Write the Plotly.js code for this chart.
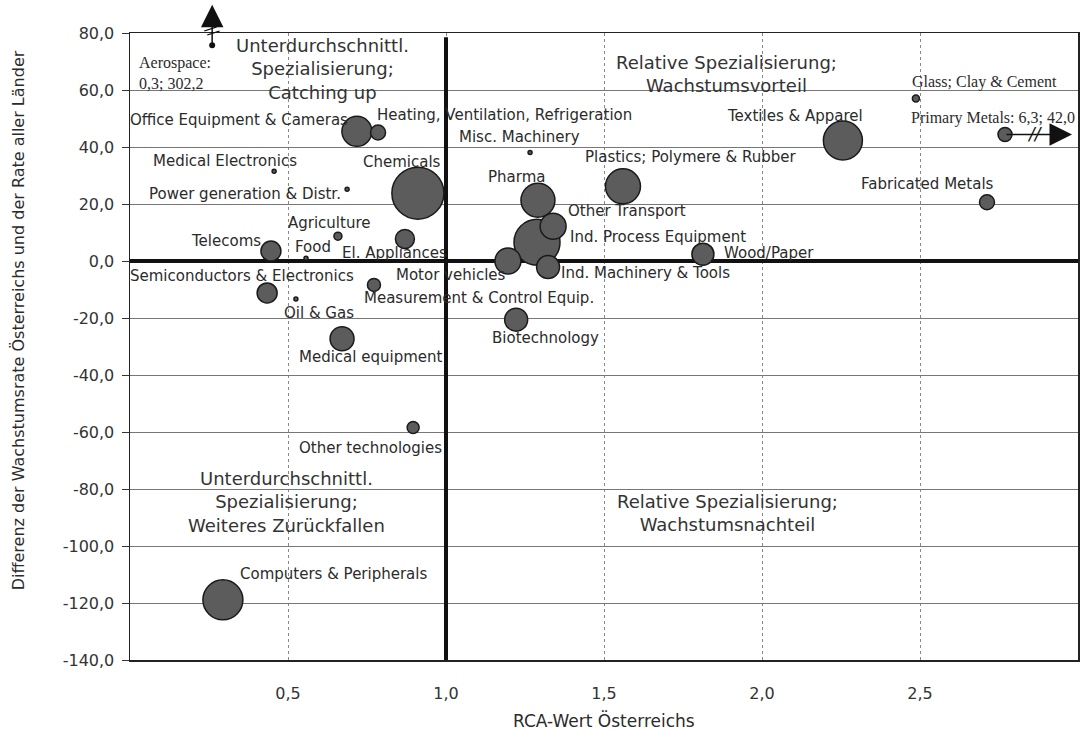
<!DOCTYPE html>
<html><head><meta charset="utf-8">
<script src="https://cdn.plot.ly/plotly-3.0.1.min.js"></script>
<style>html,body{margin:0;padding:0;background:#fff}#chart{width:1083px;height:732px}</style>
</head><body><div id="chart"></div>
<script>
// ---- data ----
const sectors = [
  "Office Equipment & Cameras","Heating, Ventilation, Refrigeration","Medical Electronics",
  "Power generation & Distr.","Chemicals","Agriculture","Food","El. Appliances","Telecoms",
  "Semiconductors & Electronics","Oil & Gas","Measurement & Control Equip.","Misc. Machinery",
  "Plastics; Polymere & Rubber","Pharma","Other Transport","Ind. Process Equipment",
  "Motor vehicles","Ind. Machinery & Tools","Wood/Paper","Biotechnology","Medical equipment",
  "Other technologies","Computers & Peripherals","Textiles & Apparel","Glass; Clay & Cement",
  "Primary Metals","Fabricated Metals"];
const rca = [0.718,0.785,0.456,0.687,0.911,0.658,0.557,0.870,0.446,0.434,0.525,0.772,1.266,
  1.560,1.291,1.339,1.288,1.196,1.323,1.813,1.222,0.671,0.896,0.294,2.256,2.487,2.769,2.712];
const growthDiff = [45.5,45.1,31.5,25.2,23.8,8.7,1.0,7.7,3.5,-11.2,-13.3,-8.4,38.1,
  26.2,21.3,12.2,6.6,0.0,-2.1,2.4,-20.6,-27.3,-58.4,-118.9,42.3,57.0,44.4,20.6];
const bubbleWeight = [30,15,4,4,52,8,4,19,20,20,4,13,4,35,34,26,46,26,23,22,23,24,12,40,39,7,14,15];

// off-scale sectors (true values printed in the chart)
const offNames = ["Aerospace","Primary Metals"];
const offRca = [0.3,6.3];
const offDiff = [302.2,42.0];
const aerospaceShownRca = 0.26;
const aerospaceShownDiff = 74.8;

const xTicks = [0.5,1.0,1.5,2.0,2.5];
const yTicks = [-140,-120,-100,-80,-60,-40,-20,0,20,40,60,80];
const yRange = [-140, 80];
const refRca = 1.0;

const quadText = ["Unterdurchschnittl.<br>Spezialisierung;<br>Catching up",
  "Relative Spezialisierung;<br>Wachstumsvorteil",
  "Unterdurchschnittl.<br>Spezialisierung;<br>Weiteres Zurückfallen",
  "Relative Spezialisierung;<br>Wachstumsnachteil"];
const quadX = [0.608,1.889,0.494,1.89];
const quadY = [67.5,65.7,-84.6,-88.5];

// ---- label placement (style: anchor, x-offset px, y-offset px) ----
const labelStyle = [
  ["right",-7,11],["left",-3,17],["center",-49,10],["right",-4,-5],["center",-16,31],
  ["center",-8,13],["center",7,11],["center",-10,-14],["right",-8,10],["center",-25,17],
  ["left",-14,-14],["left",-12,-13],["center",-11,15],["left",-40,29],["center",-21,23],
  ["left",13,15],["left",31,5],["right",0,-14],["left",11,-6],["left",19,1],["center",29,-18],
  ["center",29,-18],["center",-43,-21],["left",15,26],["center",-48,24],["left",-6,17],
  ["left",-96,16],["center",-59,18]];
const serifLabels = ["Glass; Clay & Cement","Primary Metals"];

const fmt = v => v.toFixed(1).replace('.', ',');
const SANS = "DejaVu Sans, Arial, sans-serif";
const SERIF = "Liberation Serif, Times New Roman, serif";
const TXT = "#2b2b2b";

// draw larger bubbles first
const order = sectors.map((_, i) => i).sort((a, b) => bubbleWeight[b] - bubbleWeight[a]);

// vertical reference line at RCA = 1 (under the bubbles, above the grid)
const refLine = {
  type: "scatter", mode: "lines", x: [refRca, refRca], y: [yRange[0], yRange[1] - 1.5],
  line: {color: "#111", width: 4}, hoverinfo: "skip", cliponaxis: true
};

const trace = {
  type: "scatter", mode: "markers",
  x: order.map(i => rca[i]), y: order.map(i => growthDiff[i]),
  text: order.map(i => sectors[i]),
  marker: {
    size: order.map(i => bubbleWeight[i]), sizemode: "diameter", sizeref: 1,
    color: "#5c5c5c", opacity: 1, line: {color: "#1a1a1a", width: 1.5}
  },
  hoverinfo: "text", cliponaxis: false
};

const annotations = [];
sectors.forEach((s, i) => {
  const st = labelStyle[i];
  const isSerif = serifLabels.includes(s);
  let t = s;
  const oi = offNames.indexOf(s);
  if (oi >= 0) t = s + ": " + fmt(offRca[oi]) + "; " + fmt(offDiff[oi]);
  annotations.push({
    x: rca[i], y: growthDiff[i], xref: "x", yref: "y", text: t, showarrow: false,
    xanchor: st[0], yanchor: "middle", xshift: st[1], yshift: st[2],
    font: {family: isSerif ? SERIF : SANS, size: isSerif ? 16 : 15, color: TXT}
  });
});
quadText.forEach((t, i) => annotations.push({
  x: quadX[i], y: quadY[i], xref: "x", yref: "y", text: t, showarrow: false,
  xanchor: "center", yanchor: "middle", align: "center",
  font: {family: SANS, size: 18, color: "#333"}
}));

// Aerospace: off the top of the scale
annotations.push({
  x: aerospaceShownRca, y: 1.045, xref: "x", yref: "paper", ax: 0, ay: 42,
  text: "", showarrow: true, arrowhead: 2, arrowsize: 3, arrowwidth: 1.5,
  arrowcolor: "#111", arrowside: "end+start", startarrowhead: 6, startarrowsize: 1
});
annotations.push({
  x: aerospaceShownRca, y: 80, xref: "x", yref: "y", text: "//", showarrow: false,
  textangle: 55, font: {family: SANS, size: 15, color: "#111"}, yshift: 2
});
annotations.push({
  x: aerospaceShownRca, y: aerospaceShownDiff, xref: "x", yref: "y",
  text: offNames[0] + ":<br>" + fmt(offRca[0]) + "; " + fmt(offDiff[0]),
  showarrow: false, xanchor: "left", align: "left", yanchor: "middle",
  xshift: -75, yshift: -25, font: {family: SERIF, size: 16, color: TXT}
});
// Primary Metals: off the right of the scale
const pmIdx = sectors.indexOf("Primary Metals");
annotations.push({
  x: 2.981, y: growthDiff[pmIdx], xref: "x", yref: "y", ax: -67, ay: 0,
  text: "", showarrow: true, arrowhead: 2, arrowsize: 3, arrowwidth: 1.5, arrowcolor: "#111"
});
annotations.push({
  x: 2.864, y: growthDiff[pmIdx], xref: "x", yref: "y", text: "<i>//</i>", showarrow: false,
  font: {family: SANS, size: 17, color: "#111"}
});

// axis titles
annotations.push({
  x: 0.5, y: -0.097, xref: "paper", yref: "paper", text: "RCA-Wert Österreichs",
  showarrow: false, xanchor: "center", yanchor: "middle",
  font: {family: SANS, size: 17, color: TXT}
});
annotations.push({
  x: -0.118, y: 0.542, xref: "paper", yref: "paper", textangle: -90,
  text: "Differenz der Wachstumsrate Österreichs und der Rate aller Länder",
  showarrow: false, xanchor: "center", yanchor: "middle",
  font: {family: SANS, size: 16, color: TXT}
});

const layout = {
  width: 1083, height: 732,
  margin: {l: 130, r: 5, t: 33, b: 72},
  paper_bgcolor: "#fff", plot_bgcolor: "#fff",
  showlegend: false,
  font: {family: SANS, color: TXT},
  xaxis: {
    range: [0, 3], tickvals: xTicks, ticktext: xTicks.map(fmt),
    showgrid: true, gridcolor: "#888", gridwidth: 1, griddash: "dot",
    zeroline: false, showline: true, mirror: true, linecolor: "#222", linewidth: 1.5,
    ticks: "", ticklabelstandoff: 18,
    tickfont: {family: SANS, size: 16, color: "#333"}
  },
  yaxis: {
    range: yRange, tickvals: yTicks, ticktext: yTicks.map(fmt),
    showgrid: true, gridcolor: "#777", gridwidth: 1,
    zeroline: true, zerolinecolor: "#111", zerolinewidth: 4,
    showline: true, mirror: true, linecolor: "#222", linewidth: 1.5,
    ticks: "outside", ticklen: 7, tickcolor: "#333", ticklabelstandoff: 4,
    tickfont: {family: SANS, size: 16, color: "#333"}
  },
  annotations: annotations
};

Plotly.newPlot("chart", [refLine, trace], layout, {displayModeBar: false, staticPlot: true});
</script></body></html>
